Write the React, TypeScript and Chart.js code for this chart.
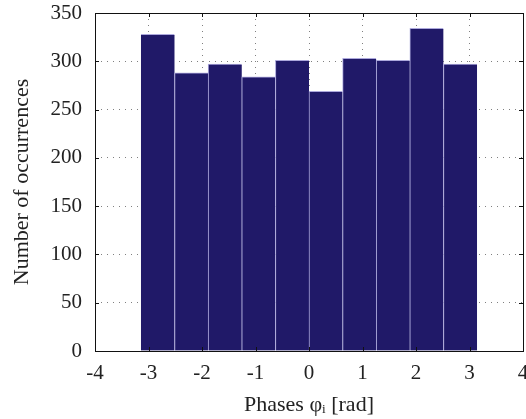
import React, { useEffect, useRef } from "react";
import { Chart, registerables } from "chart.js";

Chart.register(...registerables);

const binCenters = [-2.827, -2.199, -1.571, -0.942, -0.314, 0.314, 0.942, 1.571, 2.199, 2.827];
const counts = [328, 288, 297, 284, 301, 269, 303, 301, 334, 297];
const xTicks = [-4, -3, -2, -1, 0, 1, 2, 3, 4];
const yTicks = [0, 50, 100, 150, 200, 250, 300, 350];

const FONT = "'Liberation Serif', 'Times New Roman', serif";
const TEXT = "#222222";

const framePlugin = {
  id: "frame",
  afterDraw(chart: any) {
    const { ctx, chartArea: a, scales } = chart;
    ctx.save();
    ctx.strokeStyle = "#111";
    ctx.lineWidth = 1;
    ctx.beginPath();
    const tl = 4;
    xTicks.forEach((v) => {
      const px = Math.round(scales.x.getPixelForValue(v)) + 0.5;
      ctx.moveTo(px, a.bottom);
      ctx.lineTo(px, a.bottom - tl);
      ctx.moveTo(px, a.top);
      ctx.lineTo(px, a.top + tl);
    });
    yTicks.forEach((v) => {
      const py = Math.round(scales.y.getPixelForValue(v)) + 0.5;
      ctx.moveTo(a.left, py);
      ctx.lineTo(a.left + tl, py);
      ctx.moveTo(a.right, py);
      ctx.lineTo(a.right - tl, py);
    });
    ctx.stroke();
    ctx.strokeRect(Math.round(a.left) + 0.5, Math.round(a.top) + 0.5, Math.round(a.right - a.left), Math.round(a.bottom - a.top));
    ctx.restore();
  },
};

export default function App() {
  const ref = useRef<HTMLCanvasElement | null>(null);
  useEffect(() => {
    if (!ref.current) return;
    const chart = new Chart(ref.current, {
      type: "bar",
      data: {
        datasets: [
          {
            data: binCenters.map((x, i) => ({ x, y: counts[i] })),
            backgroundColor: "#201968",
            borderColor: "#aca8dc",
            borderWidth: (ctx: any) =>
              ctx.dataIndex === 0
                ? { top: 1, left: 0, right: 0, bottom: 0 }
                : { top: 1, left: 1, right: 0, bottom: 0 },
            borderSkipped: false,
            barPercentage: 1,
            categoryPercentage: 1,
          } as any,
        ],
      },
      options: {
        animation: false,
        responsive: true,
        maintainAspectRatio: false,
        layout: { padding: { top: 13, right: 3, left: 0, bottom: 0 } },
        plugins: { legend: { display: false }, tooltip: { enabled: false } },
        scales: {
          x: {
            type: "linear",
            min: -4,
            max: 4,
            offset: false,
            afterFit: (s: any) => {
              s.height = 68;
              s.paddingLeft = 0;
              s.paddingRight = 0;
            },
            afterBuildTicks: (s: any) => {
              s.ticks = xTicks.map((v) => ({ value: v }));
            },
            grid: {
              color: "rgba(0,0,0,0.5)",
              drawTicks: false,
              offset: false,
            } as any,
            border: { display: false, dash: [1, 5] } as any,
            ticks: {
              padding: 10,
              color: TEXT,
              font: { family: FONT, size: 21 },
              maxRotation: 0,
              autoSkip: false,
            },
            title: {
              display: true,
              text: "Phases φᵢ [rad]",
              color: TEXT,
              font: { family: FONT, size: 22 },
              padding: { top: 0, bottom: 1 },
            },
          },
          y: {
            min: 0,
            max: 350,
            afterFit: (s: any) => {
              s.width = 95;
              s.paddingTop = 0;
              s.paddingBottom = 0;
            },
            afterBuildTicks: (s: any) => {
              s.ticks = yTicks.map((v) => ({ value: v }));
            },
            grid: {
              color: "rgba(0,0,0,0.5)",
              drawTicks: false,
            },
            border: { display: false, dash: [1, 5] } as any,
            ticks: {
              padding: 13,
              color: TEXT,
              font: { family: FONT, size: 21 },
            },
            title: {
              display: true,
              text: "Number of occurrences",
              color: TEXT,
              font: { family: FONT, size: 22 },
              padding: { top: 9, bottom: 0 },
            },
          },
        },
      },
      plugins: [framePlugin],
    } as any);
    return () => chart.destroy();
  }, []);
  return (
    <div style={{ position: "absolute", left: 0, top: 0, width: 526, height: 419 }}>
      <canvas ref={ref} />
    </div>
  );
}
